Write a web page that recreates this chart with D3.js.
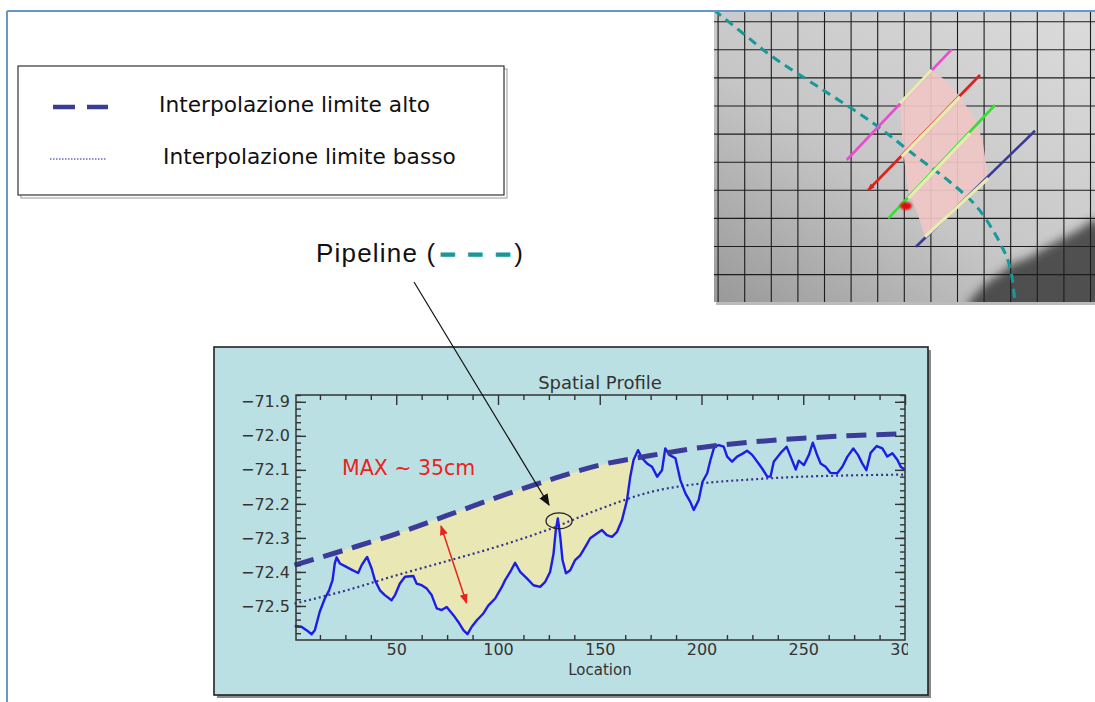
<!DOCTYPE html>
<html>
<head>
<meta charset="utf-8">
<script src="https://d3js.org/d3.v7.min.js"></script>
<style>
  body { margin: 0; background: #fff; }
  svg { display: block; }
</style>
</head>
<body>
<script>
// blue profile (location, elevation)
var profileLoc = [0.1, 3.4, 5.9, 8.4, 10, 12.4, 14.9, 17, 18.7, 19.8, 20.7, 22.3, 24.8, 28, 31.3, 33, 34.6, 35.7,
  37.9, 39.5, 42, 44.4, 47.7, 49.4, 51.8, 54.3, 58.4, 60, 62.5, 65, 67.4, 69.9, 72.3, 74.8, 78.1, 80.5, 83, 85,
  87.1, 89.6, 92.8, 95.3, 98.6, 101.9, 103.5, 106, 108.4, 110.9, 114.2, 117.4, 120.7, 123.2, 125.6, 127.3, 128.4,
  129.4, 130.6, 131.7, 133.4, 135.5, 137.9, 140.4, 142.9, 145.3, 148.6, 151.1, 153.5, 156, 158.5, 160.9, 163.4,
  165, 166.6, 168.8, 170.8, 173.2, 175.7, 178.2, 180.6, 182.2, 184.2, 187.2, 189.6, 192.1, 194.5, 196.2, 198.6,
  200.5, 202.8, 204.4, 206.3, 208.5, 210.9, 212.6, 215, 217.5, 220, 222.4, 224.9, 227.4, 229.8, 232.3, 233.9,
  235.5, 238.8, 241.8, 243.8, 246.3, 247.8, 250.3, 252.8, 254.7, 256.5, 258.5, 261, 263.4, 266.7, 269.2, 271.7,
  274.6, 276.9, 279, 281, 283.1, 286.1, 288.9, 291.3, 293.8, 296.3, 297.9, 299.8];
var profileVal = [-72.559, -72.561, -72.571, -72.583, -72.571, -72.517, -72.478, -72.454, -72.424, -72.375, -72.357,
  -72.375, -72.383, -72.393, -72.403, -72.38, -72.365, -72.356, -72.39, -72.424, -72.454, -72.468, -72.483, -72.468,
  -72.434, -72.414, -72.412, -72.434, -72.439, -72.449, -72.468, -72.507, -72.512, -72.503, -72.527, -72.547,
  -72.571, -72.583, -72.561, -72.542, -72.522, -72.498, -72.478, -72.444, -72.424, -72.40, -72.373, -72.40,
  -72.419, -72.439, -72.444, -72.429, -72.40, -72.346, -72.277, -72.243, -72.297, -72.365, -72.404, -72.395,
  -72.365, -72.351, -72.326, -72.301, -72.287, -72.277, -72.292, -72.297, -72.282, -72.248, -72.189, -72.12,
  -72.071, -72.042, -72.066, -72.081, -72.091, -72.12, -72.101, -72.037, -72.056, -72.066, -72.13, -72.169,
  -72.194, -72.218, -72.189, -72.135, -72.11, -72.071, -72.032, -72.027, -72.032, -72.061, -72.076, -72.061,
  -72.053, -72.044, -72.056, -72.076, -72.096, -72.12, -72.12, -72.076, -72.051, -72.032, -72.061, -72.099,
  -72.073, -72.086, -72.056, -72.02, -72.051, -72.081, -72.091, -72.109, -72.11, -72.091, -72.061, -72.037,
  -72.056, -72.081, -72.101, -72.05, -72.03, -72.037, -72.061, -72.051, -72.071, -72.091, -72.099];

// upper / lower interpolation curves
var limitLoc = [0, 25, 50, 75, 100, 125, 150, 175, 200, 225, 250, 275, 300];
var upperVal = [-72.38, -72.335, -72.288, -72.234, -72.18, -72.13, -72.086, -72.058, -72.034, -72.018, -72.007, -71.999, -71.994];
var lowerVal = [-72.493, -72.455, -72.41, -72.368, -72.325, -72.275, -72.215, -72.165, -72.14, -72.128, -72.12, -72.116, -72.114];

// shaded gap between upper limit and profile
var fillRange = [20.7, 168.8];

var xTicks = [50, 100, 150, 200, 250, 300];
var yTicks = [-72.5, -72.4, -72.3, -72.2, -72.1, -72.0, -71.9];

var legendLabels = ["Interpolazione limite alto", "Interpolazione limite basso"];

var W = 1095, H = 702;
var svg = d3.select("body").append("svg").attr("width", W).attr("height", H);
var defs = svg.append("defs");

// markers
function addArrow(id, color, size) {
  defs.append("marker").attr("id", id)
    .attr("viewBox", "0 0 10 10").attr("refX", 9).attr("refY", 5)
    .attr("markerWidth", size).attr("markerHeight", size).attr("markerUnits", "userSpaceOnUse")
    .attr("orient", "auto-start-reverse")
    .append("path").attr("d", "M0,1 L10,5 L0,9 Z").attr("fill", color);
}
addArrow("arrBlack", "#111", 12);
addArrow("arrRed", "#e8241c", 10);
addArrow("arrRedS", "#e0201a", 7);

// slide frame
svg.append("line").attr("x1", 7).attr("y1", 11).attr("x2", W).attr("y2", 11)
  .attr("stroke", "#6a96d0").attr("stroke-width", 2);
svg.append("line").attr("x1", 7).attr("y1", 11).attr("x2", 7).attr("y2", H)
  .attr("stroke", "#6a96d0").attr("stroke-width", 2);

// ---------- photo in the top right ----------
var ph = {x: 714, y: 12, w: W - 714, h: 290};
defs.append("clipPath").attr("id", "photoClip").append("rect")
  .attr("x", ph.x).attr("y", ph.y).attr("width", ph.w).attr("height", ph.h);
var grad = defs.append("linearGradient").attr("id", "photoGrad")
  .attr("x1", 0).attr("y1", 1).attr("x2", 0.9).attr("y2", 0);
grad.append("stop").attr("offset", 0).attr("stop-color", "#999");
grad.append("stop").attr("offset", 0.45).attr("stop-color", "#c6c6c6");
grad.append("stop").attr("offset", 1).attr("stop-color", "#dadada");
defs.append("filter").attr("id", "blur4").append("feGaussianBlur").attr("stdDeviation", 5);
defs.append("filter").attr("id", "blur1").append("feGaussianBlur").attr("stdDeviation", 1);

svg.append("rect").attr("x", ph.x + 2).attr("y", ph.y + 3).attr("width", ph.w).attr("height", ph.h)
  .attr("fill", "#bbb");
var photo = svg.append("g").attr("clip-path", "url(#photoClip)");
photo.append("rect").attr("x", ph.x).attr("y", ph.y).attr("width", ph.w).attr("height", ph.h)
  .attr("fill", "url(#photoGrad)");

var blob = [[968, 306], [978, 292], [988, 282], [1000, 274], [1012, 264], [1028, 258], [1043, 249], [1060, 240],
  [1077, 231], [1098, 220], [1100, 306]];
photo.append("path").attr("d", d3.line().curve(d3.curveCatmullRomClosed)(blob))
  .attr("fill", "#333").attr("opacity", 0.8).attr("filter", "url(#blur4)");

var gx = d3.range(718.1, ph.x + ph.w, 26.6), gy = d3.range(21.7, ph.y + ph.h, 28.1);
photo.selectAll("line.gv").data(gx).enter().append("line").attr("class", "gv")
  .attr("x1", function(d) { return d; }).attr("x2", function(d) { return d; })
  .attr("y1", ph.y).attr("y2", ph.y + ph.h).attr("stroke", "#1c1c1c").attr("stroke-width", 1.1);
photo.selectAll("line.gh").data(gy).enter().append("line").attr("class", "gh")
  .attr("y1", function(d) { return d; }).attr("y2", function(d) { return d; })
  .attr("x1", ph.x).attr("x2", ph.x + ph.w).attr("stroke", "#1c1c1c").attr("stroke-width", 1.1);

// pink region
var pink = [[931, 70], [948, 82], [960, 97], [976, 120], [983, 143], [988, 178], [925, 237],
  [918, 215], [908, 190], [903, 150], [900, 103]];
photo.append("path").attr("d", d3.line()(pink) + "Z").attr("fill", "#f0c6c6").attr("opacity", 0.92);

// pipeline route in the photo
var route = [[714, 10], [745, 35], [770, 55], [820, 88], [873, 123], [917, 157], [950, 182], [977, 207],
  [1000, 243], [1010, 267], [1015, 304]];
photo.append("path").attr("d", d3.line().curve(d3.curveCatmullRom)(route))
  .attr("fill", "none").attr("stroke", "#17999a").attr("stroke-width", 3).attr("stroke-dasharray", "9,6");

// section lines: [start, end, yellow part start, yellow part end, colour]
var sections = [
  [[846.7, 160], [951.7, 49.3], [900, 103.3], [931.7, 70], "#e84dd0"],
  [[868.3, 190], [980, 75], [901.7, 156.7], [960, 96.7], "#e0201a"],
  [[888.3, 218.3], [995, 105], [908.3, 198.3], [970, 133.3], "#33e033"],
  [[916, 246.7], [1035, 130.7], [925, 236.7], [988.3, 178.3], "#3a3a9a"]
];
photo.selectAll("line.sec").data(sections).enter().append("line").attr("class", "sec")
  .attr("x1", function(d) { return d[0][0]; }).attr("y1", function(d) { return d[0][1]; })
  .attr("x2", function(d) { return d[1][0]; }).attr("y2", function(d) { return d[1][1]; })
  .attr("stroke", function(d) { return d[4]; }).attr("stroke-width", 2.6)
  .attr("marker-start", function(d, i) { return i === 1 ? "url(#arrRedS)" : null; });
photo.selectAll("line.secy").data(sections).enter().append("line").attr("class", "secy")
  .attr("x1", function(d) { return d[2][0]; }).attr("y1", function(d) { return d[2][1]; })
  .attr("x2", function(d) { return d[3][0]; }).attr("y2", function(d) { return d[3][1]; })
  .attr("stroke", "#e8ecb0").attr("stroke-width", 3.2);
photo.append("ellipse").attr("cx", 906).attr("cy", 206).attr("rx", 6).attr("ry", 4)
  .attr("fill", "#e01010").attr("filter", "url(#blur1)");

// ---------- legend ----------
svg.append("rect").attr("x", 21).attr("y", 69).attr("width", 486).attr("height", 129)
  .attr("fill", "none").attr("stroke", "#aaa").attr("stroke-width", 1.2);
svg.append("rect").attr("x", 18).attr("y", 66).attr("width", 486).attr("height", 129)
  .attr("fill", "#fff").attr("stroke", "#333").attr("stroke-width", 1.2);
svg.append("line").attr("x1", 53).attr("x2", 108).attr("y1", 107).attr("y2", 107)
  .attr("stroke", "#3b3b98").attr("stroke-width", 4.5).attr("stroke-dasharray", "22,12");
svg.append("line").attr("x1", 50).attr("x2", 107).attr("y1", 159).attr("y2", 159)
  .attr("stroke", "#6a6ac8").attr("stroke-width", 1.6).attr("stroke-dasharray", "1.5,1.5");
svg.selectAll("text.leg").data(legendLabels).enter().append("text").attr("class", "leg")
  .attr("x", function(d, i) { return i ? 163 : 159; })
  .attr("y", function(d, i) { return i ? 164 : 112; })
  .attr("font-family", "DejaVu Sans").attr("font-size", 21.7).attr("fill", "#111")
  .text(function(d) { return d; });

// ---------- pipeline label ----------
var pipe = svg.append("text").attr("x", 316).attr("y", 262)
  .attr("font-family", "Liberation Sans, Arial").attr("font-size", 26).attr("letter-spacing", 1.2).attr("fill", "#111");
pipe.append("tspan").text("Pipeline (");
pipe.append("tspan").attr("fill", "#17999a").attr("stroke", "#17999a").attr("stroke-width", 1.6)
  .attr("font-weight", "bold").attr("letter-spacing", 3).attr("dx", 4).text("– – –");
pipe.append("tspan").attr("dx", 1).text(")");

// ---------- spatial profile panel ----------
svg.append("rect").attr("x", 217).attr("y", 350).attr("width", 714).attr("height", 348).attr("fill", "#8a8a8a");
svg.append("rect").attr("x", 214).attr("y", 347).attr("width", 714).attr("height", 348)
  .attr("fill", "#bbe0e4").attr("stroke", "#222").attr("stroke-width", 1.6);

var x = d3.scaleLinear().domain([0, 300]).range([294.5, 905]);
var y = d3.scaleLinear().domain([-72.6, -71.88]).range([640, 395]);
var upperAt = d3.scaleLinear().domain(limitLoc).range(upperVal);

var profile = profileLoc.map(function(d, i) { return {loc: d, val: profileVal[i]}; });
var upper = limitLoc.map(function(d, i) { return {loc: d, val: upperVal[i]}; });
var lower = limitLoc.map(function(d, i) { return {loc: d, val: lowerVal[i]}; });

var gapPts = profile.filter(function(d) { return d.loc >= fillRange[0] && d.loc <= fillRange[1]; });
svg.append("path").datum(gapPts)
  .attr("d", d3.area()
    .x(function(d) { return x(d.loc); })
    .y0(function(d) { return y(d.val); })
    .y1(function(d) { return y(upperAt(d.loc)); }))
  .attr("fill", "#e9e7b3");

var line = d3.line().x(function(d) { return x(d.loc); }).y(function(d) { return y(d.val); });

svg.append("path").datum(lower).attr("d", line.curve(d3.curveMonotoneX))
  .attr("fill", "none").attr("stroke", "#34348c").attr("stroke-width", 2.2).attr("stroke-dasharray", "2,3");
svg.append("path").datum(profile).attr("d", line.curve(d3.curveLinear))
  .attr("fill", "none").attr("stroke", "#1d1de6").attr("stroke-width", 2.4).attr("stroke-linejoin", "round");
svg.append("path").datum(upper).attr("d", line.curve(d3.curveMonotoneX))
  .attr("fill", "none").attr("stroke", "#3b3b98").attr("stroke-width", 5).attr("stroke-dasharray", "20,10");

// axes, IDL style with inward ticks on all four sides
var xMinor = d3.range(0, 300.1, 12.5).filter(function(d) { return d % 50 !== 0; });
var yMinor = d3.range(-72.58, -71.879, 0.02);

function styleAxis(g) {
  g.select(".domain").remove();
  g.selectAll(".tick line").attr("stroke", "#333").attr("stroke-width", 1.4);
  g.selectAll(".tick text").attr("font-family", "DejaVu Sans").attr("font-size", 16).attr("fill", "#333");
}

defs.append("clipPath").attr("id", "labClip").append("rect").attr("x", 0).attr("y", 0).attr("width", 908).attr("height", H);
svg.append("g").attr("transform", "translate(0,640)").attr("clip-path", "url(#labClip)")
  .call(d3.axisBottom(x).tickValues(xTicks).tickSize(-10).tickPadding(4).tickFormat(d3.format("d"))).call(styleAxis);
svg.append("g").attr("transform", "translate(0,640)")
  .call(d3.axisBottom(x).tickValues(xMinor).tickSize(-5).tickFormat("")).call(styleAxis);
svg.append("g").attr("transform", "translate(0,395)")
  .call(d3.axisTop(x).tickValues(xTicks).tickSize(-10).tickFormat("")).call(styleAxis);
svg.append("g").attr("transform", "translate(0,395)")
  .call(d3.axisTop(x).tickValues(xMinor).tickSize(-5).tickFormat("")).call(styleAxis);

svg.append("g").attr("transform", "translate(296,0)")
  .call(d3.axisLeft(y).tickValues(yTicks).tickSize(-10).tickPadding(6)
    .tickFormat(function(d) { return d3.format(".1f")(d).replace("-", "\u2212"); })).call(styleAxis);
svg.append("g").attr("transform", "translate(296,0)")
  .call(d3.axisLeft(y).tickValues(yMinor).tickSize(-5).tickFormat("")).call(styleAxis);
svg.append("g").attr("transform", "translate(905,0)")
  .call(d3.axisRight(y).tickValues(yTicks).tickSize(-10).tickFormat("")).call(styleAxis);
svg.append("g").attr("transform", "translate(905,0)")
  .call(d3.axisRight(y).tickValues(yMinor).tickSize(-5).tickFormat("")).call(styleAxis);

svg.append("rect").attr("x", 296).attr("y", 395).attr("width", 609).attr("height", 245)
  .attr("fill", "none").attr("stroke", "#333").attr("stroke-width", 1.5);

svg.append("text").attr("x", 600).attr("y", 389).attr("text-anchor", "middle")
  .attr("font-family", "DejaVu Sans").attr("font-size", 18).attr("fill", "#333").text("Spatial Profile");
svg.append("text").attr("x", 600).attr("y", 675).attr("text-anchor", "middle")
  .attr("font-family", "DejaVu Sans").attr("font-size", 15).attr("fill", "#333").text("Location");

// annotations
svg.append("text").attr("x", 342).attr("y", 475)
  .attr("font-family", "DejaVu Sans").attr("font-size", 20.5).attr("fill", "#e8241c").text("MAX ~ 35cm");
svg.append("line").attr("x1", 441).attr("y1", 526).attr("x2", 466.5).attr("y2", 603)
  .attr("stroke", "#e8241c").attr("stroke-width", 1.5)
  .attr("marker-start", "url(#arrRed)").attr("marker-end", "url(#arrRed)");
svg.append("ellipse").attr("cx", x(130)).attr("cy", y(-72.25)).attr("rx", 13).attr("ry", 8)
  .attr("fill", "none").attr("stroke", "#222").attr("stroke-width", 1.3);
svg.append("line").attr("x1", 414).attr("y1", 282).attr("x2", 549).attr("y2", 505)
  .attr("stroke", "#111").attr("stroke-width", 1.2).attr("marker-end", "url(#arrBlack)");
</script>
</body>
</html>
